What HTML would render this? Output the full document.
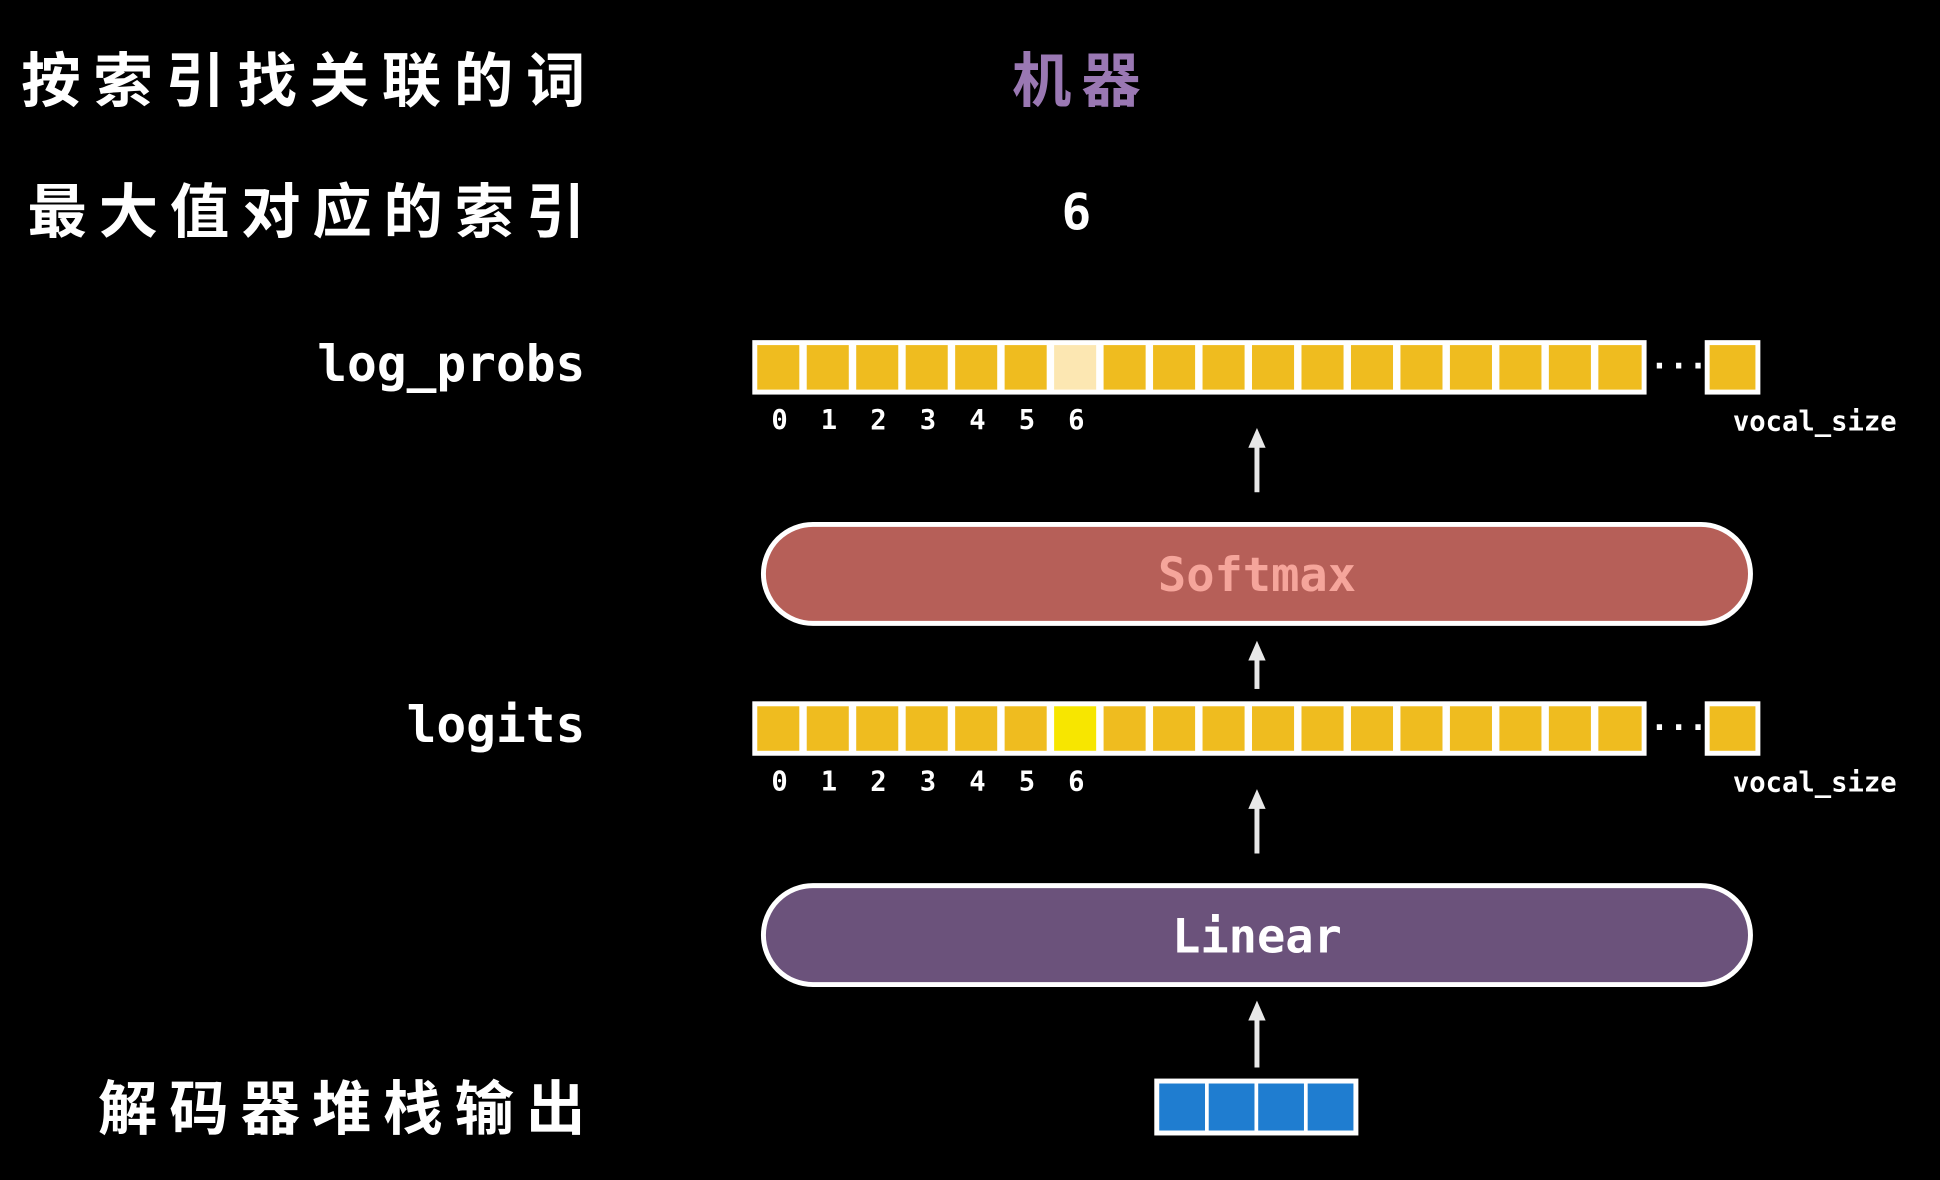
<!DOCTYPE html>
<html><head><meta charset="utf-8"><style>
html,body{margin:0;padding:0;background:#000;width:1940px;height:1180px;overflow:hidden}
svg{display:block}
.zh{font-family:"Liberation Sans","Noto Sans CJK SC",sans-serif;font-weight:bold;fill:#fff;font-size:48px}
.mono{font-family:"DejaVu Sans Mono","Liberation Mono",monospace;font-weight:bold;fill:#fff}
</style></head><body>
<svg width="1940" height="1180" viewBox="0 0 1568 954" xmlns="http://www.w3.org/2000/svg">
<rect width="1568" height="954" fill="#000"/>
<defs>
<g id="cells">
<rect x="608" y="0" width="723" height="44" fill="#fff"/>
<rect x="612" y="4" width="34" height="36" fill="#EFBC1F"/>
<rect x="652" y="4" width="34" height="36" fill="#EFBC1F"/>
<rect x="692" y="4" width="34" height="36" fill="#EFBC1F"/>
<rect x="732" y="4" width="34" height="36" fill="#EFBC1F"/>
<rect x="772" y="4" width="34" height="36" fill="#EFBC1F"/>
<rect x="812" y="4" width="34" height="36" fill="#EFBC1F"/>
<rect x="892" y="4" width="34" height="36" fill="#EFBC1F"/>
<rect x="932" y="4" width="34" height="36" fill="#EFBC1F"/>
<rect x="972" y="4" width="34" height="36" fill="#EFBC1F"/>
<rect x="1012" y="4" width="34" height="36" fill="#EFBC1F"/>
<rect x="1052" y="4" width="34" height="36" fill="#EFBC1F"/>
<rect x="1092" y="4" width="34" height="36" fill="#EFBC1F"/>
<rect x="1132" y="4" width="34" height="36" fill="#EFBC1F"/>
<rect x="1172" y="4" width="34" height="36" fill="#EFBC1F"/>
<rect x="1212" y="4" width="34" height="36" fill="#EFBC1F"/>
<rect x="1252" y="4" width="34" height="36" fill="#EFBC1F"/>
<rect x="1292" y="4" width="35" height="36" fill="#EFBC1F"/>
<rect x="1378" y="0" width="45" height="44" fill="#fff"/>
<rect x="1382" y="4" width="37" height="36" fill="#EFBC1F"/>
<text x="1357" y="30" class="mono" font-size="26" text-anchor="middle">···</text>
<g class="mono" font-size="22" text-anchor="middle">
<text x="630" y="72">0</text><text x="670" y="72">1</text><text x="710" y="72">2</text><text x="750" y="72">3</text><text x="790" y="72">4</text><text x="830" y="72">5</text><text x="870" y="72">6</text>
</g>
<text x="1467" y="73" class="mono" font-size="22" text-anchor="middle">vocal_size</text>
</g>
<marker id="ah" markerWidth="16" markerHeight="16" refX="6" refY="8" orient="auto" markerUnits="userSpaceOnUse"><path d="M0,1 L16,8 L0,15 Z" fill="#e8e8e8"/></marker>
</defs>

<text x="17" y="82" class="zh" textLength="456" lengthAdjust="spacing">按索引找关联的词</text>
<text x="22" y="188" class="zh" textLength="451" lengthAdjust="spacing">最大值对应的索引</text>
<text x="79" y="913" class="zh" textLength="394" lengthAdjust="spacing">解码器堆栈输出</text>
<text x="870" y="82" class="zh" style="fill:#9A78B3" text-anchor="middle" textLength="104" lengthAdjust="spacing">机器</text>
<text x="870" y="185" class="mono" font-size="40" text-anchor="middle">6</text>

<text x="473" y="308" class="mono" font-size="40" text-anchor="end">log_probs</text>
<text x="473" y="600" class="mono" font-size="40" text-anchor="end">logits</text>

<g transform="translate(0,275)"><use href="#cells"/><rect x="852" y="4" width="34" height="36" fill="#FCE7B2"/></g>
<g transform="translate(0,567)"><use href="#cells"/><rect x="852" y="4" width="34" height="36" fill="#F7E600"/></g>

<g stroke="#e8e8e8" stroke-width="4" marker-end="url(#ah)">
<line x1="1016" y1="398" x2="1016" y2="356"/>
<line x1="1016" y1="557" x2="1016" y2="528"/>
<line x1="1016" y1="690" x2="1016" y2="648"/>
<line x1="1016" y1="863" x2="1016" y2="819"/>
</g>

<rect x="617" y="424" width="798" height="80" rx="40" fill="#B65F58" stroke="#fff" stroke-width="4"/>
<text x="1016" y="478" class="mono" font-size="38" text-anchor="middle" style="fill:#F5A59B">Softmax</text>
<rect x="617" y="716" width="798" height="80" rx="40" fill="#6B527B" stroke="#fff" stroke-width="4"/>
<text x="1016" y="770" class="mono" font-size="38" text-anchor="middle">Linear</text>

<rect x="933" y="872" width="165" height="46" fill="#fff"/>
<rect x="937" y="876" width="37" height="38" fill="#1F7DD0"/>
<rect x="977" y="876" width="37" height="38" fill="#1F7DD0"/>
<rect x="1017" y="876" width="37" height="38" fill="#1F7DD0"/>
<rect x="1057" y="876" width="37" height="38" fill="#1F7DD0"/>
</svg>
</body></html>
